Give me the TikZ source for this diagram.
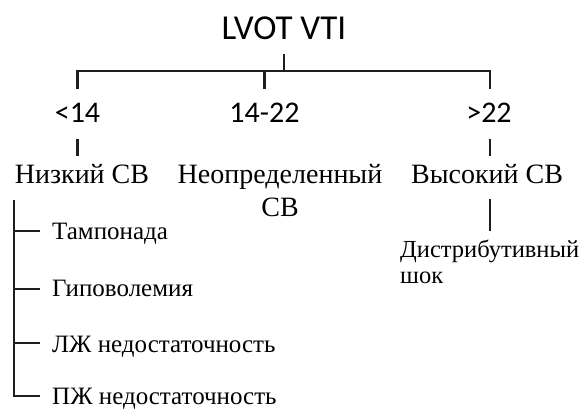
\documentclass[tikz,border=0pt]{standalone}
\usepackage{fontspec}
\setmainfont{Liberation Serif}
\newfontfamily\titlefont{Carlito}
\begin{document}
\begin{tikzpicture}[x=1pt,y=1pt,
  conn/.style={draw=black!88, line width=2.6pt},
  ttl/.style={font=\titlefont\fontsize{35}{38}\selectfont, inner sep=0pt, anchor=base},
  rng/.style={font=\titlefont\fontsize{30}{33}\selectfont, inner sep=0pt, anchor=base},
  cls/.style={font=\fontsize{28}{33}\selectfont, inner sep=0pt, anchor=base, align=center},
  itm/.style={font=\fontsize{25}{26}\selectfont, inner sep=0pt, anchor=base west, align=left}]
\useasboundingbox (0,0) rectangle (584,-409);
\fill[white] (0,0) rectangle (584,-409);
% texts
\node[ttl] (title) at (284,-40) {LVOT VTI};
\node[rng] (r1) at (77.5,-123) {<14};
\node[rng] (r2) at (264.5,-123) {14-22};
\node[rng] (r3) at (489,-123) {>22};
\node[cls] (low) at (82,-184) {Низкий СВ};
\node[cls] (mid) at (280,-216) {Неопределенный\\СВ};
\node[cls] (high) at (487,-184) {Высокий СВ};
\node[itm, font=\fontsize{24.5}{26}\selectfont] (distr) at (400,-283) {Дистрибутивный\\шок};
\node[itm] (i1) at (52,-240) {Тампонада};
\node[itm] (i2) at (52,-296) {Гиповолемия};
\node[itm] (i3) at (52,-352) {ЛЖ недостаточность};
\node[itm] (i4) at (52,-404) {ПЖ недостаточность};
% junction coordinates
\coordinate (tTop) at (284,-54);
\coordinate (bar) at (284,-71);
\coordinate (bL) at (77.5,-71);
\coordinate (bM) at (264.5,-71);
\coordinate (bR) at (490,-71);
\coordinate (dL) at (77.5,-89);
\coordinate (dM) at (264.5,-89);
\coordinate (dR) at (490,-89);
\coordinate (lTop) at (77.5,-139);
\coordinate (lBot) at (77.5,-156);
\coordinate (hTop) at (490,-139);
\coordinate (hBot) at (490,-156);
\coordinate (hd1) at (490,-199);
\coordinate (hd2) at (490,-231);
\coordinate (brTop) at (14,-200);
\coordinate (s1) at (14,-231);
\coordinate (s2) at (14,-289);
\coordinate (s3) at (14,-343);
\coordinate (s4) at (14,-396);
% connectors
\draw[conn] (tTop) -- (bar);
\draw[conn] (dL) -- (bL) -- (bR) -- (dR);
\draw[conn] (bM) -- (dM);
\draw[conn] (lTop) -- (lBot);
\draw[conn] (hTop) -- (hBot);
\draw[conn] (hd1) -- (hd2);
\draw[conn] (brTop) -- (s4) -- ([xshift=26pt]s4);
\draw[conn] (s1) -- ([xshift=26pt]s1);
\draw[conn] (s2) -- ([xshift=26pt]s2);
\draw[conn] (s3) -- ([xshift=26pt]s3);
\end{tikzpicture}
\end{document}
